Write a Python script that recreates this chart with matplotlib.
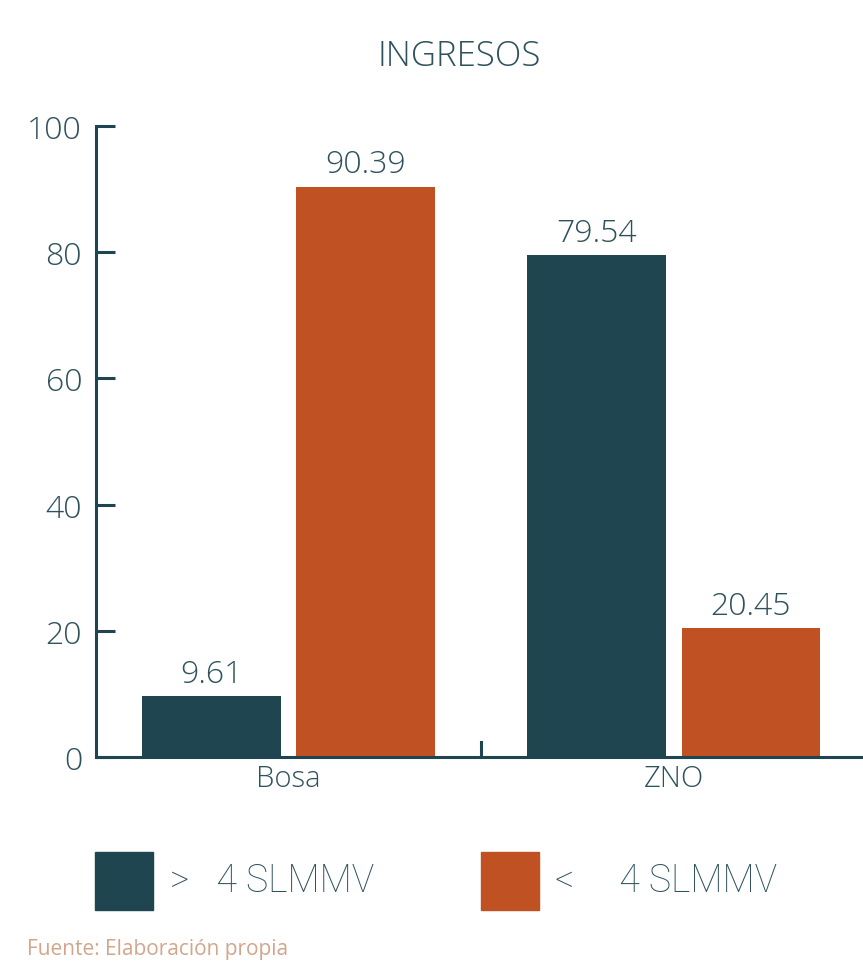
import matplotlib
matplotlib.use("Agg")
import matplotlib.pyplot as plt
import numpy as np
from matplotlib.patches import Rectangle

plt.rcParams['font.family'] = ['Open Sans', 'DejaVu Sans']
plt.rcParams['font.weight'] = 'light'

categories = ["Bosa", "ZNO"]
series_names = [">   4 SLMMV", "<     4 SLMMV"]
mayor_4 = [9.61, 79.54]
menor_4 = [90.39, 20.45]
yticks = [0, 20, 40, 60, 80, 100]

dark = "#1F4550"
orange = "#C05123"
text_col = "#2E525C"

W, H = 863, 962
fig = plt.figure(figsize=(W / 100, H / 100), dpi=100)

left, right, top, bottom = 96, 866.5, 127, 758
ax = fig.add_axes([left / W, 1 - bottom / H, (right - left) / W, (bottom - top) / H])

x = np.arange(len(categories))
width = 0.36
ax.bar(x - 0.2, mayor_4, width, color=dark, zorder=2)
ax.bar(x + 0.2, menor_4, width, color=orange, zorder=2)

for xs, vals in [(x - 0.2, mayor_4), (x + 0.2, menor_4)]:
    for xi, v in zip(xs, vals):
        ax.text(xi, v + 1.0, f"{v:.2f}", ha="center", va="bottom", fontsize=23, color=text_col)

ax.set_xlim(-0.5, 1.5)
ax.set_ylim(0, 100)
ax.set_yticks(yticks)
ax.set_yticklabels([str(t) for t in yticks], fontsize=23, color=text_col)
ax.tick_params(axis="y", direction="in", length=14, width=2.2, color=dark, pad=10)
ax.set_xticks(x)
ax.set_xticklabels(categories, fontsize=21, color=text_col)
ax.tick_params(axis="x", length=0, pad=5)
# separator tick between the two groups
ax.plot([0.5, 0.5], [0, 2.3], color=dark, lw=2.2, clip_on=False, zorder=3)

for s in ["top", "right"]:
    ax.spines[s].set_visible(False)
for s in ["left", "bottom"]:
    ax.spines[s].set_color(dark)
    ax.spines[s].set_linewidth(2.2)

fig.text(459 / W, 1 - 57 / H, "INGRESOS", ha="center", va="center", fontsize=25,
         color=text_col)

# legend drawn by hand below the axes
for (x0, col, label, tx) in [(95, dark, series_names[0], 170), (481, orange, series_names[1], 555)]:
    fig.patches.append(Rectangle((x0 / W, 1 - 911 / H), 58 / W, 58 / H, transform=fig.transFigure,
                                 color=col))
    fig.text(tx / W, 1 - 881 / H, label, ha="left", va="center", fontsize=27, color=text_col,
             family=["Roboto", "DejaVu Sans"], fontweight="light")

fig.text(27 / W, 1 - 950 / H, "Fuente: Elaboración propia", ha="left", va="center", fontsize=15,
         color="#D2A68C", fontweight="normal")

fig.savefig("out.png", dpi=100, facecolor="white")
